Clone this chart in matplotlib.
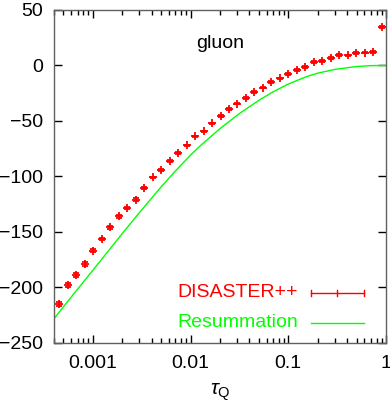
import numpy as np
import matplotlib
matplotlib.use("Agg")
import matplotlib.pyplot as plt

plt.rcParams['font.family'] = ['Liberation Sans', 'DejaVu Sans']
plt.rcParams['mathtext.fontset'] = 'custom'
plt.rcParams['mathtext.rm'] = 'Liberation Sans'
plt.rcParams['mathtext.it'] = 'Liberation Sans:italic'

# DISASTER++ points, bins in ln(tau) from -7.7 to -0.1 (step 0.2)
ln_tau = [-7.7, -7.5, -7.3, -7.1, -6.9, -6.7, -6.5, -6.3, -6.1, -5.9,
          -5.7, -5.5, -5.3, -5.1, -4.9, -4.7, -4.5, -4.3, -4.1, -3.9,
          -3.7, -3.5, -3.3, -3.1, -2.9, -2.7, -2.5, -2.3, -2.1, -1.9,
          -1.7, -1.5, -1.3, -1.1, -0.9, -0.7, -0.5, -0.3, -0.1]
dis_val = [-215.2, -198.0, -188.7, -179.4, -167.1, -156.6, -146.1, -136.2, -128.7, -121.0,
           -110.5, -101.1, -94.4, -86.3, -79.1, -72.2, -64.1, -59.6, -52.4, -45.8,
           -39.4, -34.4, -29.1, -24.2, -20.0, -14.8, -11.8, -7.9, -4.1, -1.4,
           2.9, 3.7, 7.0, 9.2, 9.0, 11.3, 11.6, 12.3, 35.0]
dis_err = [2.0, 1.8, 1.8, 1.6, 1.5, 1.3, 1.2, 1.2, 1.0, 1.0,
           1.0, 0.8, 0.8, 0.8, 0.8, 0.8, 0.8, 0.8, 0.8, 0.8,
           0.8, 0.8, 0.8, 0.8, 0.8, 0.8, 0.8, 0.8, 0.8, 0.8,
           0.8, 0.8, 0.8, 0.8, 0.8, 0.8, 0.8, 0.8, 0.8]

# resummation curve
res_tau = [4e-4, 6e-4, 1e-3, 2e-3, 3e-3, 5e-3, 7e-3, 0.01, 0.0125, 0.02,
           0.032, 0.05, 0.07, 0.1, 0.155, 0.2, 0.3, 0.5, 0.7, 1.0]
res_val = [-228.5, -209.0, -184.8, -151.7, -132.7, -109.6, -95.2, -80.9, -72.7, -57.0,
           -43.1, -31.5, -23.8, -16.8, -10.0, -7.0, -3.6, -1.0, -0.2, 0.0]

red = '#ff0000'
green = '#00ff00'

fig = plt.figure(figsize=(3.9, 4.03), dpi=100)
ax = fig.add_axes([54/390, 1-342.5/403, 332/390, 332.5/403])

tau = np.exp(np.array(ln_tau))
ax.errorbar(tau, dis_val, yerr=dis_err, fmt='+', color=red, ms=5.5, mew=1.3,
            elinewidth=1.0, capsize=2.2, capthick=1.0)
ax.plot(res_tau, res_val, color=green, lw=1)

ax.set_xscale('log')
ax.set_xlim(4e-4, 1)
ax.set_ylim(-250, 50)
ax.set_yticks(range(-250, 51, 50))
ax.set_xticks([0.001, 0.01, 0.1, 1])
ax.set_xticklabels(['0.001', '0.01', '0.1', '1'])
ax.tick_params(which='both', direction='in', top=True, right=True, labelsize=14,
               color='black')
ax.tick_params(which='major', length=6, width=1)
ax.tick_params(which='minor', length=3.5, width=1)
ax.tick_params(axis='y', which='major', pad=8)
ax.tick_params(axis='x', which='major', pad=9)
for s in ax.spines.values():
    s.set_color('#606060')
    s.set_linewidth(1)

ax.set_xlabel(r'$\tau_{\rm Q}$', fontsize=15, labelpad=7)

ax.text(0.5, 0.9, 'gluon', transform=ax.transAxes, fontsize=14,
        ha='center', va='center')

# key
ax.text(0.735, 0.149, 'DISASTER++', transform=ax.transAxes, fontsize=14,
        color=red, ha='right', va='center')
ax.text(0.735, 0.059, 'Resummation', transform=ax.transAxes, fontsize=14,
        color=green, ha='right', va='center')
ax.plot([0.773, 0.934], [0.149, 0.149], transform=ax.transAxes, color=red, lw=1)
for xk in [0.773, 0.8535, 0.934]:
    ax.plot([xk, xk], [0.140, 0.158], transform=ax.transAxes, color=red, lw=1)
ax.plot([0.773, 0.934], [0.059, 0.059], transform=ax.transAxes, color=green, lw=1)

fig.savefig('out.png', dpi=100)
